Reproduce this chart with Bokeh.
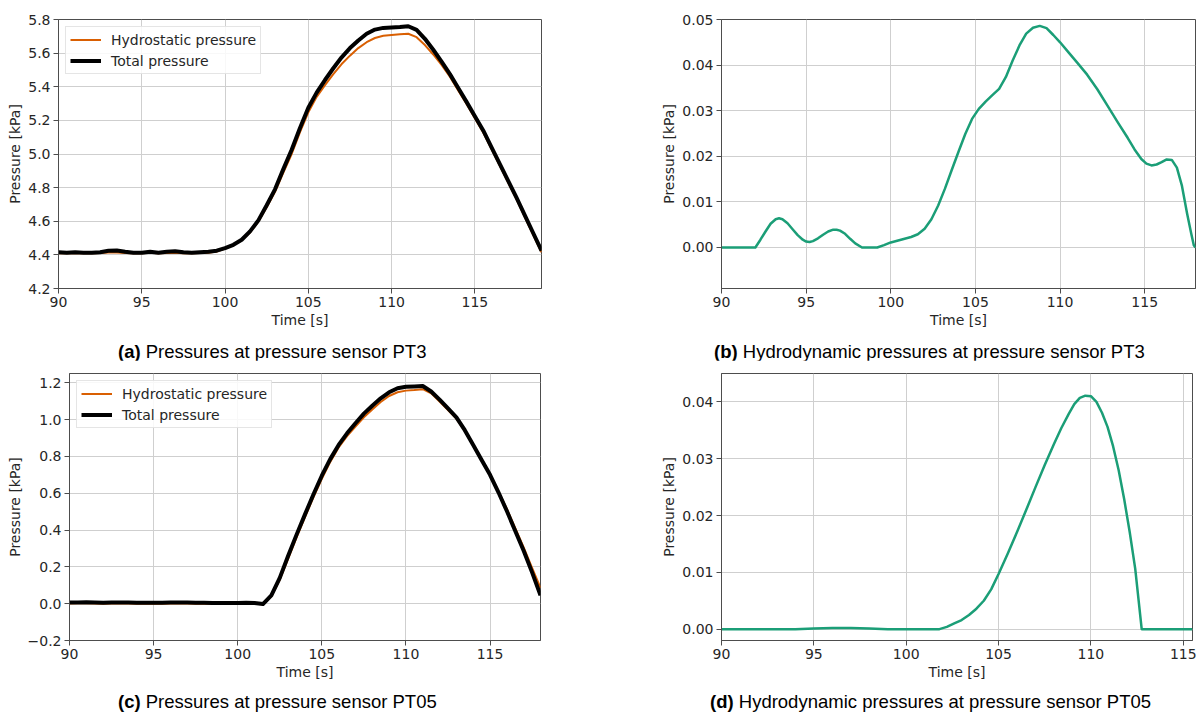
from bokeh.plotting import figure
from bokeh.layouts import column, row
from bokeh.models import Div, FixedTicker, Range1d
from bokeh.embed import file_html
from bokeh.resources import INLINE

# ---------------- data ----------------
# PT3: time series sampled every 0.5 s (90 .. 119 s)
t_pt3 = [90 + 0.5 * i for i in range(59)]
pt3_hydrostatic = [
    4.410, 4.409, 4.411, 4.409, 4.410, 4.411, 4.414, 4.414, 4.411, 4.409,
    4.410, 4.412, 4.409, 4.411, 4.413, 4.410, 4.409, 4.411, 4.413, 4.420,
    4.438, 4.458, 4.488, 4.533, 4.598, 4.683, 4.775, 4.890, 5.000, 5.130,
    5.248, 5.340, 5.410, 5.475, 5.535, 5.585, 5.630, 5.665, 5.690, 5.703,
    5.708, 5.712, 5.715, 5.695, 5.648, 5.592, 5.530, 5.460, 5.378, 5.298,
    5.212, 5.128, 5.030, 4.930, 4.830, 4.730, 4.625, 4.520, 4.415,
]
pt3_total = [
    4.415, 4.413, 4.416, 4.413, 4.413, 4.416, 4.425, 4.426, 4.418, 4.412,
    4.413, 4.418, 4.413, 4.418, 4.422, 4.415, 4.412, 4.416, 4.419, 4.425,
    4.440, 4.460, 4.490, 4.540, 4.605, 4.695, 4.790, 4.910, 5.025, 5.155,
    5.275, 5.365, 5.440, 5.510, 5.575, 5.630, 5.675, 5.715, 5.740, 5.750,
    5.752, 5.755, 5.760, 5.738, 5.685, 5.620, 5.550, 5.475, 5.392, 5.310,
    5.225, 5.140, 5.040, 4.940, 4.840, 4.740, 4.635, 4.530, 4.425,
]

# PT3 hydrodynamic pressure
t_pt3_dyn = [
    90, 92, 92.3, 92.6, 92.9, 93.2, 93.4, 93.6, 93.9, 94.2, 94.5, 94.8, 95.0,
    95.2, 95.4, 95.7, 96.0, 96.3, 96.6, 96.8, 97.0, 97.3, 97.6, 97.9, 98.3,
    99.2, 99.6, 100, 100.6, 101.2, 101.6, 102.0, 102.4, 102.8, 103.2, 103.6,
    104.0, 104.4, 104.8, 105.2, 105.6, 106.0, 106.4, 106.8, 107.2, 107.6,
    108.0, 108.4, 108.8, 109.2, 109.6, 110.0, 110.5, 111.0, 111.6, 112.2,
    112.8, 113.4, 114.0, 114.4, 114.8, 115.1, 115.4, 115.7, 116.0, 116.3,
    116.6, 116.9, 117.2, 117.5, 117.75, 117.9, 118,
]
pt3_dynamic = [
    0.0, 0.0, 0.0017, 0.0035, 0.0052, 0.0062, 0.0064, 0.0062, 0.0053, 0.0040,
    0.0027, 0.0017, 0.0013, 0.0012, 0.0014, 0.0020, 0.0028, 0.0035, 0.0039,
    0.0039, 0.0037, 0.0030, 0.0019, 0.0009, 0.0, 0.0, 0.0005, 0.0011, 0.0017,
    0.0023, 0.0029, 0.0041, 0.0062, 0.0092, 0.0129, 0.0170, 0.0210, 0.0249,
    0.0282, 0.0304, 0.0320, 0.0334, 0.0348, 0.0374, 0.0410, 0.0443, 0.0469,
    0.0482, 0.0486, 0.0481, 0.0466, 0.0450, 0.0428, 0.0406, 0.0379, 0.0347,
    0.0311, 0.0275, 0.0240, 0.0215, 0.0194, 0.0184, 0.0180, 0.0182, 0.0187,
    0.0193, 0.0192, 0.0175, 0.0135, 0.0075, 0.0030, 0.0005, 0.0,
]

# PT05: time series sampled every 0.5 s (90 .. 118 s)
t_pt05 = [90 + 0.5 * i for i in range(57)]
pt05_hydrostatic = [
    0.001, 0.002, 0.002, 0.001, 0.000, 0.001, 0.001, 0.001, 0.000, 0.000,
    0.000, 0.000, 0.001, 0.002, 0.001, 0.000, 0.000, 0.000, 0.000, 0.000,
    0.000, 0.001, 0.000, -0.003, 0.040, 0.130, 0.245, 0.360, 0.470, 0.578,
    0.678, 0.770, 0.848, 0.910, 0.962, 1.012, 1.055, 1.095, 1.128, 1.148,
    1.157, 1.160, 1.165, 1.142, 1.098, 1.052, 1.005, 0.938, 0.860, 0.780,
    0.700, 0.610, 0.515, 0.410, 0.305, 0.195, 0.085,
]
pt05_total = [
    0.006, 0.007, 0.008, 0.006, 0.005, 0.006, 0.006, 0.006, 0.005, 0.005,
    0.005, 0.005, 0.006, 0.007, 0.006, 0.005, 0.005, 0.004, 0.004, 0.004,
    0.004, 0.005, 0.004, -0.002, 0.045, 0.140, 0.260, 0.375, 0.485, 0.593,
    0.695, 0.785, 0.862, 0.925, 0.980, 1.032, 1.075, 1.115, 1.148, 1.170,
    1.178, 1.180, 1.182, 1.152, 1.108, 1.060, 1.012, 0.942, 0.862, 0.780,
    0.700, 0.605, 0.503, 0.395, 0.287, 0.170, 0.045,
]

# PT05 hydrodynamic pressure
t_pt05_dyn = [
    90, 94, 95, 96, 97, 98, 99, 101.8, 102.2, 102.6, 103.0, 103.4, 103.8,
    104.2, 104.6, 105.0, 105.5, 106.0, 106.5, 107.0, 107.5, 108.0, 108.4,
    108.8, 109.1, 109.4, 109.7, 110.0, 110.3, 110.6, 110.9, 111.2, 111.5,
    111.8, 112.1, 112.4, 112.75, 115.5,
]
pt05_dynamic = [
    0.0, 0.0, 0.0001, 0.0002, 0.0002, 0.0001, 0.0, 0.0, 0.0004, 0.0010,
    0.0016, 0.0025, 0.0036, 0.0050, 0.0070, 0.0097, 0.0133, 0.0171, 0.0210,
    0.0250, 0.0289, 0.0326, 0.0354, 0.0379, 0.0396, 0.0407, 0.0411, 0.0410,
    0.0400, 0.0381, 0.0356, 0.0322, 0.0280, 0.0229, 0.0171, 0.0106, 0.0,
    0.0,
]

# tick positions and labels
time_ticks = [90, 95, 100, 105, 110, 115]
time_tick_labels = ["90", "95", "100", "105", "110", "115"]
pt3_ticks = [4.2, 4.4, 4.6, 4.8, 5.0, 5.2, 5.4, 5.6, 5.8]
pt3_tick_labels = ["4.2", "4.4", "4.6", "4.8", "5.0", "5.2", "5.4", "5.6", "5.8"]
pt3_dyn_ticks = [0.0, 0.01, 0.02, 0.03, 0.04, 0.05]
pt3_dyn_tick_labels = ["0.00", "0.01", "0.02", "0.03", "0.04", "0.05"]
pt05_ticks = [-0.2, 0.0, 0.2, 0.4, 0.6, 0.8, 1.0, 1.2]
pt05_tick_labels = ["\u22120.2", "0.0", "0.2", "0.4", "0.6", "0.8", "1.0", "1.2"]
pt05_dyn_ticks = [0.0, 0.01, 0.02, 0.03, 0.04]
pt05_dyn_tick_labels = ["0.00", "0.01", "0.02", "0.03", "0.04"]

captions = [
    ("(a)", "Pressures at pressure sensor PT3"),
    ("(b)", "Hydrodynamic pressures at pressure sensor PT3"),
    ("(c)", "Pressures at pressure sensor PT05"),
    ("(d)", "Hydrodynamic pressures at pressure sensor PT05"),
]

ORANGE = "#d95f02"
GREEN = "#1b9e77"
TEXT = "#262626"
FONT = "DejaVu Sans"
FS = "14px"


def panel(width, height, borders, xr, yr, yticks, ylabels):
    left, right, top, bottom = borders
    p = figure(
        width=width, height=height, output_backend="svg", toolbar_location=None,
        x_range=Range1d(*xr), y_range=Range1d(*yr),
        min_border_left=left, min_border_right=right,
        min_border_top=top, min_border_bottom=bottom,
    )
    p.background_fill_color = "white"
    p.border_fill_color = "white"
    p.outline_line_color = "#4d4d4d"
    p.outline_line_width = 1

    p.xaxis.ticker = FixedTicker(ticks=time_ticks)
    p.xaxis.major_label_overrides = dict(zip(time_ticks, time_tick_labels))
    p.yaxis.ticker = FixedTicker(ticks=yticks)
    p.yaxis.major_label_overrides = dict(zip(yticks, ylabels))
    p.xaxis.axis_label = "Time [s]"
    p.yaxis.axis_label = "Pressure [kPa]"

    for ax in (p.xaxis[0], p.yaxis[0]):
        ax.axis_line_color = "#4d4d4d"
        ax.major_tick_line_color = "#4d4d4d"
        ax.major_tick_out = 5
        ax.major_tick_in = 0
        ax.minor_tick_line_color = None
        ax.major_label_text_font = FONT
        ax.major_label_text_font_size = FS
        ax.major_label_text_color = TEXT
        ax.major_label_standoff = 3
        ax.axis_label_text_font = FONT
        ax.axis_label_text_font_size = FS
        ax.axis_label_text_font_style = "normal"
        ax.axis_label_text_color = TEXT
        ax.axis_label_standoff = 2

    for g in (p.xgrid[0], p.ygrid[0]):
        g.grid_line_color = "#cfcfcf"
        g.grid_line_width = 1
    return p


def style_legend(p):
    lg = p.legend[0]
    lg.location = "top_left"
    lg.margin = 7
    lg.padding = 4
    lg.spacing = 4
    lg.glyph_width = 31
    lg.glyph_height = 17
    lg.label_height = 17
    lg.label_standoff = 10
    lg.label_text_font = FONT
    lg.label_text_font_size = FS
    lg.label_text_color = TEXT
    lg.border_line_color = "#cccccc"
    lg.border_line_width = 1
    lg.background_fill_alpha = 0.85


def caption(i, width, height, left, top):
    tag, text = captions[i]
    html = (
        f'<div style="position:relative; margin-left:{left}px; margin-top:{top}px; '
        "font-family:'Liberation Sans',Arial,sans-serif; "
        'font-size:18.5px; line-height:20px; white-space:nowrap; color:#000;">'
        f"<b>{tag}</b> {text}</div>"
    )
    return Div(text=html, width=width, height=height, margin=(0, 0, 0, 0))


# (a) PT3 pressures
pa = panel(640, 330, (58, 99, 14, 42), (90, 119), (4.2, 5.8), pt3_ticks, pt3_tick_labels)
pa.line(t_pt3, pt3_hydrostatic, line_color=ORANGE, line_width=2,
        line_join="round", legend_label="Hydrostatic pressure")
pa.line(t_pt3, pt3_total, line_color="black", line_width=4,
        line_join="round", legend_label="Total pressure")
style_legend(pa)

# (b) PT3 hydrodynamic pressure
pb = panel(560, 330, (81, 5, 19, 41), (90, 118), (-0.009, 0.05), pt3_dyn_ticks, pt3_dyn_tick_labels)
pb.line(t_pt3_dyn, pt3_dynamic, line_color=GREEN, line_width=2.5, line_join="round")

# (c) PT05 pressures
pc = panel(640, 330, (69, 100, 12, 50), (90, 118), (-0.2, 1.25), pt05_ticks, pt05_tick_labels)
pc.line(t_pt05, pt05_hydrostatic, line_color=ORANGE, line_width=2,
        line_join="round", legend_label="Hydrostatic pressure")
pc.line(t_pt05, pt05_total, line_color="black", line_width=4,
        line_join="round", legend_label="Total pressure")
style_legend(pc)

# (d) PT05 hydrodynamic pressure
pd_ = panel(560, 330, (81, 8, 13, 50), (90, 115.5), (-0.002, 0.045), pt05_dyn_ticks, pt05_dyn_tick_labels)
pd_.line(t_pt05_dyn, pt05_dynamic, line_color=GREEN, line_width=2.5, line_join="round")

layout = column(
    row(pa, pb),
    row(caption(0, 640, 30, 118, 12), caption(1, 560, 30, 74, 12)),
    row(pc, pd_),
    row(caption(2, 640, 26, 118, 2), caption(3, 560, 26, 70, 2)),
)

open("out.html", "w").write(file_html(layout, INLINE))
